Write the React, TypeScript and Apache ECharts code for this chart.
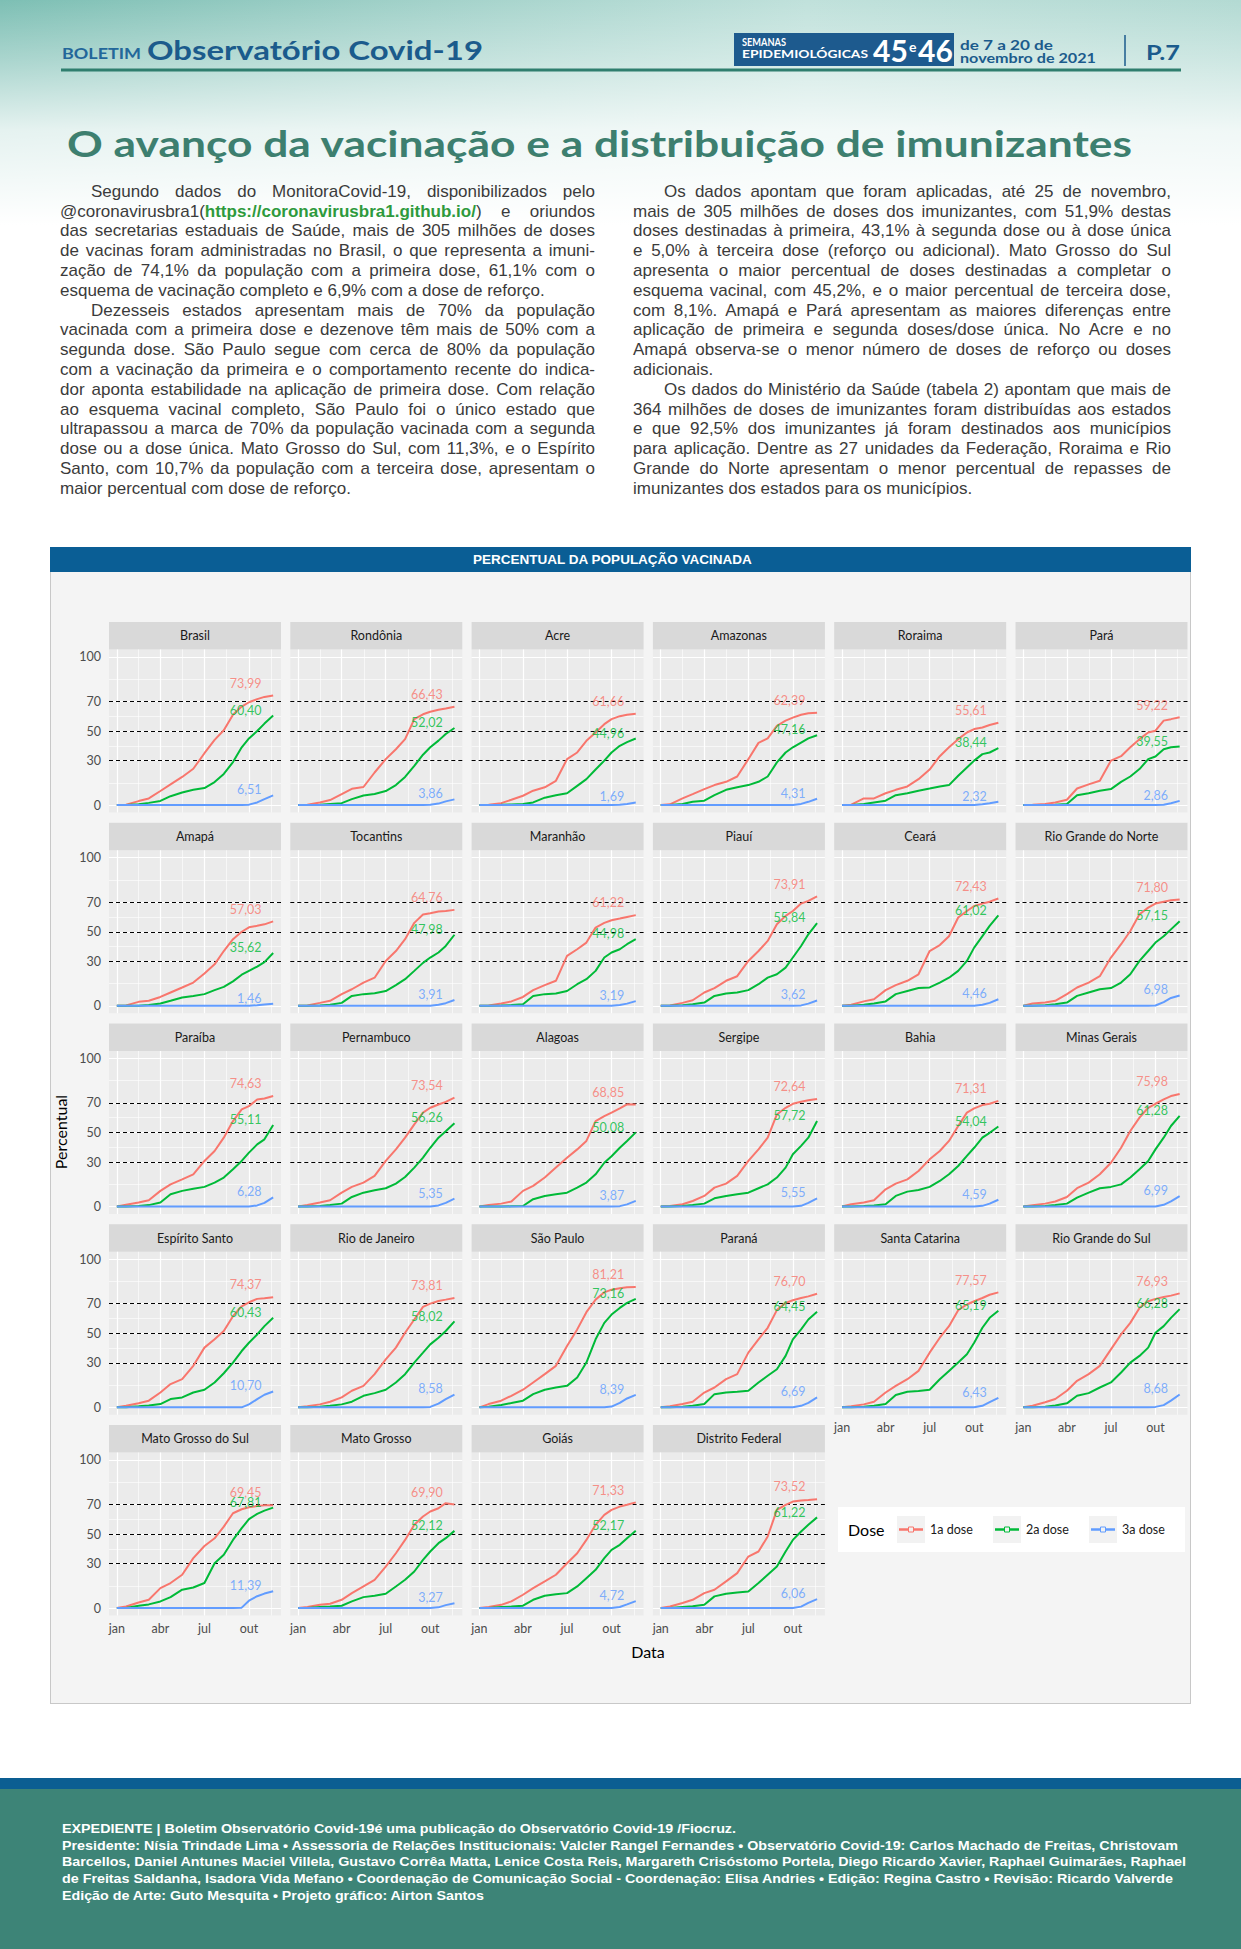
import React, { useEffect, useRef } from 'react';
import * as echarts from 'echarts';

// ---------- data ----------
const DAYS = [0, 19, 45, 66, 90, 111, 135, 158, 181, 202, 221, 240, 258, 273, 290, 305, 323]; // days since 1 Jan 2021
const MONTH_BREAKS = [0, 90, 181, 273];
const MONTH_MINOR = [45, 136, 227, 319];
const MONTH_LABELS = ['jan', 'abr', 'jul', 'out'];
const Y_TICKS = [0, 30, 50, 70, 100];
const Y_MINOR = [15, 40, 60, 85];
const REF_LINES = [30, 50, 70];
const DOSES = ['1a dose', '2a dose', '3a dose'];
const COLORS = ['#F8766D', '#00BA38', '#619CFF'];

const BRASIL = [
  [0, 0.3, 2.7, 4.5, 9.5, 14, 19, 24.5, 35, 44, 50.5, 61, 66.5, 69.4, 71.5, 73, 73.99],
  [0, 0, 0.5, 1.5, 2.8, 6, 8.5, 10.3, 11.5, 15.5, 21, 29, 39, 45, 50, 55, 60.4],
  [0, 0, 0, 0, 0, 0, 0, 0, 0, 0, 0, 0, 0, 0.3, 1.8, 4, 6.51],
];
const RONDONIA = [
  [0, 0.3, 1.8, 3.4, 7.4, 11, 12.2, 22, 31, 37.7, 44.5, 58, 61.3, 63, 64.3, 65.2, 66.43],
  [0, 0, 0.3, 0.8, 1.3, 4, 6.5, 7.5, 9.5, 13.5, 19, 26.5, 34, 39, 43.5, 48, 52.02],
  [0, 0, 0, 0, 0, 0, 0, 0, 0, 0, 0, 0, 0, 0.2, 1, 2.5, 3.86],
];
const ACRE = [
  [0, 0.2, 1.3, 3.6, 6.3, 9.7, 12, 16.4, 31, 35.5, 43.4, 49, 54.6, 58, 60, 61, 61.66],
  [0, 0, 0.2, 0.4, 0.7, 1.8, 5, 6.7, 8, 13, 17.5, 24, 30, 35.5, 40, 42.5, 44.96],
  [0, 0, 0, 0, 0, 0, 0, 0, 0, 0, 0, 0, 0, 0, 0.2, 0.8, 1.69],
];
const AMAZONAS = [
  [0, 0.5, 4.5, 7.4, 10.8, 13.5, 15.7, 19.3, 31, 42, 45, 53.5, 57, 59, 61, 62, 62.39],
  [0, 0, 0.7, 2.2, 3, 6.7, 10.3, 12, 13.5, 15.7, 19.3, 28.8, 35.5, 39, 42.2, 45, 47.16],
  [0, 0, 0, 0, 0, 0, 0, 0, 0, 0, 0, 0, 0, 0, 0.8, 2.2, 4.31],
];
const RORAIMA = [
  [0, 0.3, 4.5, 4.5, 8, 10.3, 12.6, 17.5, 24, 33, 39, 44.5, 49, 51.3, 52.4, 54, 55.61],
  [0, 0, 0.7, 1.8, 3, 6.7, 8, 9.7, 11.2, 12.6, 13.5, 19.8, 25.4, 30, 34.4, 35.5, 38.44],
  [0, 0, 0, 0, 0, 0, 0, 0, 0, 0, 0, 0, 0, 0, 0.5, 1.2, 2.32],
];
const PARA = [
  [0, 0.2, 0.7, 1.8, 3.6, 11.2, 14, 16.4, 30, 33, 39, 44.5, 49, 50.2, 57, 58, 59.22],
  [0, 0, 0, 0.2, 0.7, 6.7, 8, 9.7, 10.8, 15.7, 19.3, 24.3, 31, 32.8, 37.7, 39, 39.55],
  [0, 0, 0, 0, 0, 0, 0, 0, 0, 0, 0, 0, 0, 0, 0.3, 1.2, 2.86],
];
const AMAPA = [
  [0, 0.3, 2.7, 3.4, 6, 9, 12.4, 15.7, 21.8, 28, 37, 45, 50, 53, 54, 55, 57.03],
  [0, 0, 0, 0.5, 1.6, 3.4, 5.6, 6.7, 7.9, 10.6, 12.8, 16.5, 21, 23.6, 26.5, 29.5, 35.62],
  [0, 0, 0, 0, 0, 0, 0, 0, 0, 0, 0, 0, 0, 0, 0.4, 0.9, 1.46],
];
const TOCANTINS = [
  [0, 0.3, 2, 3.4, 7.9, 11.2, 15.7, 19, 30.3, 37, 45, 56, 61.6, 62.5, 63.6, 64, 64.76],
  [0, 0, 0.2, 0.7, 2, 6.7, 7.9, 8.5, 10, 14, 18, 23.6, 29, 32.6, 36, 40.4, 47.98],
  [0, 0, 0, 0, 0, 0, 0, 0, 0, 0, 0, 0, 0, 0, 0.8, 1.8, 3.91],
];
const MARANHAO = [
  [0, 0.2, 1.6, 3, 6, 10.6, 14, 16.9, 33.7, 38.2, 42.7, 52.8, 56, 57.8, 58.9, 60, 61.22],
  [0, 0, 0.2, 0.5, 1.1, 6.7, 7.9, 8.3, 10, 14.6, 18, 23.6, 32.6, 36, 38.2, 41.6, 44.98],
  [0, 0, 0, 0, 0, 0, 0, 0, 0, 0, 0, 0, 0, 0, 0.5, 1.5, 3.19],
];
const PIAUI = [
  [0, 0.3, 2, 3.8, 9, 12, 16.9, 20, 30.3, 37, 43.8, 55, 60.7, 64, 69, 70.8, 73.91],
  [0, 0, 0.4, 1, 2.2, 6.7, 8.3, 9, 10.6, 14.6, 19, 21.3, 25.8, 32.6, 40.4, 48.3, 55.84],
  [0, 0, 0, 0, 0, 0, 0, 0, 0, 0, 0, 0, 0, 0, 0.3, 1.5, 3.62],
];
const CEARA = [
  [0, 0.7, 3, 4.5, 10.6, 14, 16.9, 21.3, 37, 41, 47, 59.6, 64, 67.4, 69, 70.3, 72.43],
  [0, 0, 0.7, 1.6, 3, 7.9, 10, 12, 12.4, 15.7, 19, 23.6, 30.3, 39.3, 47, 54, 61.02],
  [0, 0, 0, 0, 0, 0, 0, 0, 0, 0, 0, 0, 0, 0, 0.8, 2, 4.46],
];
const RIO_GRANDE_NORTE = [
  [0, 1.6, 2.2, 3.4, 7.9, 12.4, 15.7, 20, 32.6, 41.6, 50.5, 61.8, 66.3, 69, 70.3, 71.2, 71.8],
  [0, 0, 0.4, 1, 2.2, 6.7, 9, 11.2, 12, 15.7, 21.3, 30.3, 37, 42.7, 47, 51.6, 57.15],
  [0, 0, 0, 0, 0, 0, 0, 0, 0, 0, 0, 0, 0, 0.2, 2.5, 5.3, 6.98],
];
const PARAIBA = [
  [0, 1.3, 2.7, 4.3, 10.6, 15, 18.4, 21.8, 30.8, 37.5, 46.5, 57.7, 65.6, 67.8, 72.3, 73, 74.63],
  [0, 0, 0.4, 1, 2.7, 8.3, 10.6, 12, 13.3, 16.2, 19.6, 25.2, 30.8, 36.4, 42, 45.4, 55.11],
  [0, 0, 0, 0, 0, 0, 0, 0, 0, 0, 0, 0, 0, 0, 0.8, 2.5, 6.28],
];
const PERNAMBUCO = [
  [0, 1.1, 2.7, 4.3, 9.4, 13.3, 16.2, 20.7, 30.8, 38.6, 46.5, 55.5, 63.4, 66.7, 68.9, 70.7, 73.54],
  [0, 0, 0.4, 1, 2, 6.5, 9.4, 11, 12.4, 15.5, 20, 26.3, 33, 39.7, 46.5, 50.9, 56.26],
  [0, 0, 0, 0, 0, 0, 0, 0, 0, 0, 0, 0, 0, 0, 0.8, 2.5, 5.35],
];
const ALAGOAS = [
  [0, 1.1, 2, 3.4, 10.6, 14, 19.6, 26.3, 33, 38.6, 44.3, 57.7, 61, 63.4, 66.3, 69, 68.85],
  [0, 0, 0, 0.2, 0.4, 5, 7.2, 8.3, 9.4, 12.8, 16.2, 21.8, 29.6, 34, 39.7, 44.3, 50.08],
  [0, 0, 0, 0, 0, 0, 0, 0, 0, 0, 0, 0, 0, 0, 0.3, 1.5, 3.87],
];
const SERGIPE = [
  [0, 0.4, 1.6, 3.8, 7.2, 12.8, 15.5, 20.7, 30.8, 38.6, 46.5, 62.2, 66.7, 69.4, 70.8, 71.7, 72.64],
  [0, 0, 0.4, 1, 2, 5.6, 7.2, 8.3, 9.4, 12.4, 15, 19.6, 26.3, 35.3, 41, 46.5, 57.72],
  [0, 0, 0, 0, 0, 0, 0, 0, 0, 0, 0, 0, 0, 0, 0.5, 2.5, 5.55],
];
const BAHIA = [
  [0, 1.6, 2.7, 4.3, 11.7, 15.5, 18.4, 24, 31.9, 37.5, 44.3, 54.4, 63.4, 66.3, 68.5, 69.4, 71.31],
  [0, 0, 0.4, 0.8, 1.6, 7.2, 10.1, 11.2, 13.3, 17.3, 21.8, 27.4, 34.2, 39.7, 46.5, 49.8, 54.04],
  [0, 0, 0, 0, 0, 0, 0, 0, 0, 0, 0, 0, 0, 0, 0.5, 2, 4.59],
];
const MINAS_GERAIS = [
  [0, 0.9, 2, 3.4, 6.5, 12.4, 16.2, 21.8, 29.6, 39.7, 51, 60, 66.7, 69.4, 72.3, 74.6, 75.98],
  [0, 0, 0.4, 1, 2, 6, 9.4, 12.4, 13.3, 15, 19.6, 25.2, 30.8, 38.6, 46.5, 54.4, 61.28],
  [0, 0, 0, 0, 0, 0, 0, 0, 0, 0, 0, 0, 0, 0, 1.2, 3.5, 6.99],
];
const ESPIRITO_SANTO = [
  [0, 1.1, 2.7, 4.5, 10, 15.7, 19, 28, 40.3, 45.9, 51.5, 61.5, 68.2, 70.9, 73.2, 73.6, 74.37],
  [0, 0, 0.7, 1.3, 2.2, 5.6, 6.7, 10, 11.9, 16.8, 23, 30.2, 38, 43.6, 49.2, 54.8, 60.43],
  [0, 0, 0, 0, 0, 0, 0, 0, 0, 0, 0, 0, 0, 2, 5.5, 8.5, 10.7],
];
const RIO_DE_JANEIRO = [
  [0, 0.7, 2, 3.8, 6.7, 11.2, 14.5, 22.4, 32.4, 40.3, 50.3, 59.3, 67.8, 70, 71.8, 72.7, 73.81],
  [0, 0, 0.4, 1, 2, 3.8, 7.8, 9.6, 11.9, 16.8, 22.4, 30.2, 36.9, 42.5, 47, 51.5, 58.02],
  [0, 0, 0, 0, 0, 0, 0, 0, 0, 0, 0, 0, 0, 0.3, 2.5, 5.5, 8.58],
];
const SAO_PAULO = [
  [0, 2.2, 4.5, 7.8, 11.9, 16.8, 22.4, 28, 41.4, 52.6, 64.2, 72.7, 77.6, 79.4, 80.3, 81, 81.21],
  [0, 0.4, 1.6, 2.9, 4.5, 8.9, 11.9, 13.4, 14.5, 20.1, 30.2, 45.9, 57, 62.6, 67.1, 70.5, 73.16],
  [0, 0, 0, 0, 0, 0, 0, 0, 0, 0, 0, 0, 0, 0.5, 3, 6, 8.39],
];
const PARANA = [
  [0, 0.7, 2.2, 3.8, 10, 13.4, 19, 22.4, 36.9, 45.9, 53.7, 65.6, 70.5, 72.3, 73.8, 74.9, 76.7],
  [0, 0, 0.4, 1, 2.2, 8.9, 10, 10.5, 11.2, 16.8, 21.3, 25.7, 34.7, 45.9, 52.6, 59.3, 64.45],
  [0, 0, 0, 0, 0, 0, 0, 0, 0, 0, 0, 0, 0, 0, 1, 3, 6.69],
];
const SANTA_CATARINA = [
  [0, 0.7, 2, 3.8, 10, 14.5, 19, 24.6, 36.9, 47, 54.8, 65.6, 69.4, 71.6, 73.8, 76, 77.57],
  [0, 0, 0.4, 1, 2.2, 8.3, 10.5, 11, 11.9, 19, 24.6, 30.2, 35.8, 43.6, 53.7, 60.4, 65.19],
  [0, 0, 0, 0, 0, 0, 0, 0, 0, 0, 0, 0, 0, 0, 1, 3.5, 6.43],
];
const RIO_GRANDE_SUL = [
  [0, 1.1, 3.4, 5.6, 11.2, 17.9, 22.4, 28, 39.1, 49.2, 57, 67.1, 71.6, 73.2, 74.5, 75.4, 76.93],
  [0, 0, 0.4, 1.2, 2.7, 7.8, 9.6, 13.4, 16.8, 23.5, 30.2, 34.7, 40.3, 50.3, 54.8, 60.4, 66.28],
  [0, 0, 0, 0, 0, 0, 0, 0, 0, 0, 0, 0, 0, 0.3, 1.5, 4.5, 8.68],
];
const MATO_GROSSO_SUL = [
  [0, 1.1, 3.8, 5.6, 13.5, 16.9, 22.5, 33.7, 41.9, 47.1, 55, 64, 66.7, 68, 68.9, 69.4, 69.45],
  [0, 0, 1.6, 2.5, 4.5, 7.4, 12.4, 13.9, 16.9, 30.3, 36, 46, 53.9, 60, 63.6, 65.8, 67.81],
  [0, 0, 0, 0, 0, 0, 0, 0, 0, 0, 0, 0, 0.3, 5, 8, 9.8, 11.39],
];
const MATO_GROSSO = [
  [0, 0.7, 2.2, 2.9, 5.6, 10.1, 14.6, 19.1, 28, 37, 46, 56.2, 61.8, 65.2, 67.4, 70.8, 69.9],
  [0, 0, 0.7, 1, 1.6, 4.5, 7.4, 8.3, 9.7, 14.6, 19.1, 24.7, 32.6, 38.2, 43.8, 47.2, 52.12],
  [0, 0, 0, 0, 0, 0, 0, 0, 0, 0, 0, 0, 0, 0, 0.5, 2, 3.27],
];
const GOIAS = [
  [0, 0.7, 2.2, 4.5, 9, 13.5, 18, 22.5, 30.3, 37, 46, 56.2, 62.9, 66.3, 68.5, 69.7, 71.33],
  [0, 0, 0.7, 1, 1.6, 5.6, 8.3, 9.4, 10.1, 14.6, 20.2, 25.8, 33.7, 39.3, 42.7, 47.2, 52.17],
  [0, 0, 0, 0, 0, 0, 0, 0, 0, 0, 0, 0, 0, 0, 0.7, 2.5, 4.72],
];
const DISTRITO_FEDERAL = [
  [0, 1.1, 3.4, 5.6, 10.1, 12.4, 18, 23.6, 34.8, 38.2, 48.3, 66.3, 69.7, 71.9, 72.6, 73, 73.52],
  [0, 0, 0.7, 1.2, 2.2, 7.9, 9.7, 10.6, 11.2, 16.9, 22.5, 28, 38.2, 46, 51.7, 56.2, 61.22],
  [0, 0, 0, 0, 0, 0, 0, 0, 0, 0, 0, 0, 0, 0, 1, 3.5, 6.06],
];

const FACET_NAMES = [
  'Brasil', 'Rondônia', 'Acre', 'Amazonas', 'Roraima', 'Pará',
  'Amapá', 'Tocantins', 'Maranhão', 'Piauí', 'Ceará', 'Rio Grande do Norte',
  'Paraíba', 'Pernambuco', 'Alagoas', 'Sergipe', 'Bahia', 'Minas Gerais',
  'Espírito Santo', 'Rio de Janeiro', 'São Paulo', 'Paraná', 'Santa Catarina', 'Rio Grande do Sul',
  'Mato Grosso do Sul', 'Mato Grosso', 'Goiás', 'Distrito Federal',
];
const FACET_DATA = [
  BRASIL, RONDONIA, ACRE, AMAZONAS, RORAIMA, PARA,
  AMAPA, TOCANTINS, MARANHAO, PIAUI, CEARA, RIO_GRANDE_NORTE,
  PARAIBA, PERNAMBUCO, ALAGOAS, SERGIPE, BAHIA, MINAS_GERAIS,
  ESPIRITO_SANTO, RIO_DE_JANEIRO, SAO_PAULO, PARANA, SANTA_CATARINA, RIO_GRANDE_SUL,
  MATO_GROSSO_SUL, MATO_GROSSO, GOIAS, DISTRITO_FEDERAL,
];

// label placement (ggplot-like text annotation)
const LABEL_DAY = 299;
const LABEL_OFFSET = [8.3, 3.6, 3.8];

// ---------- layout ----------
const CH_LEFT = 51, CH_TOP = 572, CH_W = 1139, CH_H = 1131;
const COL0 = 58, COL_STEP = 181.3, PANEL_W = 172;
const ROW0 = 50, ROW_STEP = 200.75, STRIP_H = 27.5, PANEL_H = 163;
const X_MIN = -16.2, X_MAX = 339.2, Y_MIN = -5, Y_MAX = 105;
const CHART_FONT = 'Lato, "Noto Sans", sans-serif';

const fmt = (v: number) => v.toFixed(2).replace('.', ',');

function buildOption() {
  const grid: any[] = [], xAxis: any[] = [], yAxis: any[] = [], series: any[] = [], graphic: any[] = [];
  const n = FACET_NAMES.length;
  FACET_NAMES.forEach((name, i) => {
    const r = Math.floor(i / 6), c = i % 6;
    const left = COL0 + c * COL_STEP;
    const stripTop = ROW0 + r * ROW_STEP;
    const top = stripTop + STRIP_H;
    const showX = i + 6 >= n;
    const showY = c === 0;
    grid.push({ left, top, width: PANEL_W, height: PANEL_H, show: true, backgroundColor: '#EBEBEB', borderWidth: 0 });
    xAxis.push({
      gridIndex: i, type: 'value', min: X_MIN, max: X_MAX,
      axisLine: { show: false }, splitLine: { show: false },
      axisTick: { show: showX, customValues: MONTH_BREAKS, length: 4, lineStyle: { color: '#333', width: 1 } },
      axisLabel: {
        show: showX, customValues: MONTH_BREAKS, margin: 6, color: '#4D4D4D', fontSize: 12.5, fontFamily: CHART_FONT,
        formatter: (v: number) => { const k = MONTH_BREAKS.indexOf(Math.round(v)); return k >= 0 ? MONTH_LABELS[k] : ''; },
      },
    });
    yAxis.push({
      gridIndex: i, type: 'value', min: Y_MIN, max: Y_MAX,
      axisLine: { show: false }, splitLine: { show: false },
      axisTick: { show: showY, customValues: Y_TICKS, length: 4, lineStyle: { color: '#333', width: 1 } },
      axisLabel: { show: showY, customValues: Y_TICKS, margin: 8, color: '#4D4D4D', fontSize: 12.5, fontFamily: CHART_FONT },
    });
    const mk = (v: number, axis: 'xAxis' | 'yAxis', color: string, width: number, type: any) => ({ [axis]: v, lineStyle: { color, width, type } });
    series.push({
      type: 'line', xAxisIndex: i, yAxisIndex: i, data: [], silent: true, z: 1,
      markLine: {
        silent: true, symbol: ['none', 'none'], label: { show: false }, z: 1, animation: false,
        emphasis: { disabled: true },
        data: [
          ...MONTH_MINOR.map((v) => mk(v, 'xAxis', '#FFFFFF', 0.6, 'solid')),
          ...Y_MINOR.map((v) => mk(v, 'yAxis', '#FFFFFF', 0.6, 'solid')),
          ...MONTH_BREAKS.map((v) => mk(v, 'xAxis', '#FFFFFF', 1.2, 'solid')),
          ...Y_TICKS.map((v) => mk(v, 'yAxis', '#FFFFFF', 1.2, 'solid')),
          ...REF_LINES.map((v) => mk(v, 'yAxis', '#000000', 1.1, [4, 3])),
        ],
      },
    });
    const vals = FACET_DATA[i];
    vals.forEach((arr, k) => {
      series.push({
        type: 'line', name: DOSES[k], xAxisIndex: i, yAxisIndex: i, z: 10,
        showSymbol: false, symbol: 'none', silent: true,
        lineStyle: { color: COLORS[k], width: 2 }, itemStyle: { color: COLORS[k] },
        data: DAYS.map((d, j) => [d, arr[j]]),
      });
    });
    series.push({
      type: 'scatter', xAxisIndex: i, yAxisIndex: i, z: 12, silent: true,
      symbolSize: 0, itemStyle: { color: 'transparent' },
      label: {
        show: true, position: 'inside', align: 'right', verticalAlign: 'middle',
        formatter: '{b}', fontSize: 12.5, fontFamily: CHART_FONT,
      },
      data: vals.map((arr, k) => {
        const last = arr[arr.length - 1];
        return { name: fmt(last), value: [LABEL_DAY, last + LABEL_OFFSET[k]], label: { color: COLORS[k] } };
      }),
    });
    graphic.push({ type: 'rect', silent: true, shape: { x: left, y: stripTop, width: PANEL_W, height: STRIP_H }, style: { fill: '#D9D9D9' } });
    graphic.push({
      type: 'text', silent: true, x: left + PANEL_W / 2, y: stripTop + STRIP_H / 2,
      style: { text: name, fill: '#1A1A1A', fontSize: 12.5, fontFamily: CHART_FONT, align: 'center', verticalAlign: 'middle', textAlign: 'center', textVerticalAlign: 'middle' },
    });
  });

  // axis titles
  graphic.push({
    type: 'text', silent: true, x: 9, y: 560, rotation: Math.PI / 2,
    style: { text: 'Percentual', fill: '#000', fontSize: 16, fontFamily: CHART_FONT, align: 'center', verticalAlign: 'middle', textAlign: 'center', textVerticalAlign: 'middle' },
  });
  graphic.push({
    type: 'text', silent: true, x: 597, y: 1079,
    style: { text: 'Data', fill: '#000', fontSize: 16, fontFamily: CHART_FONT, align: 'center', verticalAlign: 'middle', textAlign: 'center', textVerticalAlign: 'middle' },
  });

  // legend
  const LX = 787, LY = 935;
  graphic.push({ type: 'rect', silent: true, shape: { x: LX, y: LY, width: 347, height: 45 }, style: { fill: '#FFFFFF' } });
  graphic.push({
    type: 'text', silent: true, x: LX + 10, y: LY + 22.5,
    style: { text: 'Dose', fill: '#000', fontSize: 16, fontFamily: CHART_FONT, verticalAlign: 'middle', textVerticalAlign: 'middle' },
  });
  const keyX = [846, 942, 1038];
  DOSES.forEach((d, k) => {
    const kx = keyX[k];
    graphic.push({ type: 'rect', silent: true, shape: { x: kx, y: LY + 9, width: 28, height: 27 }, style: { fill: '#F2F2F2' } });
    graphic.push({ type: 'line', silent: true, shape: { x1: kx + 2, y1: LY + 22.5, x2: kx + 26, y2: LY + 22.5 }, style: { stroke: COLORS[k], lineWidth: 2.5 } });
    graphic.push({ type: 'rect', silent: true, shape: { x: kx + 11.5, y: LY + 20, width: 5, height: 5 }, style: { fill: '#F2F2F2', stroke: COLORS[k], lineWidth: 1 } });
    graphic.push({
      type: 'text', silent: true, x: kx + 33, y: LY + 22.5,
      style: { text: d, fill: '#1A1A1A', fontSize: 12.5, fontFamily: CHART_FONT, verticalAlign: 'middle', textVerticalAlign: 'middle' },
    });
  });

  return { animation: false, backgroundColor: 'transparent', grid, xAxis, yAxis, series, graphic };
}

function FacetChart() {
  const ref = useRef<HTMLDivElement>(null);
  useEffect(() => {
    const chart = echarts.init(ref.current as HTMLDivElement, null, { renderer: 'svg' });
    chart.setOption(buildOption() as any);
    return () => chart.dispose();
  }, []);
  return <div ref={ref} style={{ position: 'absolute', left: CH_LEFT, top: CH_TOP, width: CH_W, height: CH_H }} />;
}

// ---------- page text ----------
const COL1_LINES: [string, number][] = [
  ['Segundo dados do MonitoraCovid-19, disponibilizados pelo', 1],
  ['@URL e oriundos', 0],
  ['das secretarias estaduais de Saúde, mais de 305 milhões de doses', 0],
  ['de vacinas foram administradas no Brasil, o que representa a imuni-', 0],
  ['zação de 74,1% da população com a primeira dose, 61,1% com o', 0],
  ['esquema de vacinação completo e 6,9% com a dose de reforço.', 2],
  ['Dezesseis estados apresentam mais de 70% da população', 1],
  ['vacinada com a primeira dose e dezenove têm mais de 50% com a', 0],
  ['segunda dose. São Paulo segue com cerca de 80% da população', 0],
  ['com a vacinação da primeira e o comportamento recente do indica-', 0],
  ['dor aponta estabilidade na aplicação de primeira dose. Com relação', 0],
  ['ao esquema vacinal completo, São Paulo foi o único estado que', 0],
  ['ultrapassou a marca de 70% da população vacinada com a segunda', 0],
  ['dose ou a dose única. Mato Grosso do Sul, com 11,3%, e o Espírito', 0],
  ['Santo, com 10,7% da população com a terceira dose, apresentam o', 0],
  ['maior percentual com dose de reforço.', 2],
];
const COL2_LINES: [string, number][] = [
  ['Os dados apontam que foram aplicadas, até 25 de novembro,', 1],
  ['mais de 305 milhões de doses dos imunizantes, com 51,9% destas', 0],
  ['doses destinadas à primeira, 43,1% à segunda dose ou à dose única', 0],
  ['e 5,0% à terceira dose (reforço ou adicional). Mato Grosso do Sul', 0],
  ['apresenta o maior percentual de doses destinadas a completar o', 0],
  ['esquema vacinal, com 45,2%, e o maior percentual de terceira dose,', 0],
  ['com 8,1%. Amapá e Pará apresentam as maiores diferenças entre', 0],
  ['aplicação de primeira e segunda doses/dose única. No Acre e no', 0],
  ['Amapá observa-se o menor número de doses de reforço ou doses', 0],
  ['adicionais.', 2],
  ['Os dados do Ministério da Saúde (tabela 2) apontam que mais de', 1],
  ['364 milhões de doses de imunizantes foram distribuídas aos estados', 0],
  ['e que 92,5% dos imunizantes já foram destinados aos municípios', 0],
  ['para aplicação. Dentre as 27 unidades da Federação, Roraima e Rio', 0],
  ['Grande do Norte apresentam o menor percentual de repasses de', 0],
  ['imunizantes dos estados para os municípios.', 2],
];
const FOOTER_LINES = [
  'EXPEDIENTE | Boletim Observatório Covid-19é uma publicação do Observatório Covid-19 /Fiocruz.',
  'Presidente: Nísia Trindade Lima • Assessoria de Relações Institucionais: Valcler Rangel Fernandes • Observatório Covid-19: Carlos Machado de Freitas, Christovam',
  'Barcellos, Daniel Antunes Maciel Villela, Gustavo Corrêa Matta, Lenice Costa Reis, Margareth Crisóstomo Portela, Diego Ricardo Xavier, Raphael Guimarães, Raphael',
  'de Freitas Saldanha, Isadora Vida Mefano • Coordenação de Comunicação Social - Coordenação: Elisa Andries • Edição: Regina Castro • Revisão: Ricardo Valverde',
  'Edição de Arte: Guto Mesquita • Projeto gráfico: Airton Santos',
];
const FOOTER_W = [674, 1116, 1124, 1111, 422];

const BODY_FONT = '"Liberation Sans", Arial, sans-serif';
const HEAD_FONT = 'Lato, "Noto Sans", sans-serif';

function TextColumn({ lines, left, width }: { lines: [string, number][]; left: number; width: number }) {
  return (
    <div style={{ position: 'absolute', left, top: 181.8, width, fontFamily: BODY_FONT, fontSize: 17, color: '#3B3B3B' }}>
      {lines.map(([t, kind], i) => (
        <div key={i} style={{ height: 19.8, lineHeight: '19.8px', textAlign: 'justify', textAlignLast: kind === 2 ? 'left' : 'justify', paddingLeft: kind === 1 ? 31 : 0, whiteSpace: 'nowrap' } as any}>
          {t.includes('@URL') ? (
            <>
              @coronavirusbra1(<span style={{ color: '#2E9A3C', fontWeight: 700 }}>https://coronavirusbra1.github.io/</span>) e oriundos
            </>
          ) : t}
        </div>
      ))}
    </div>
  );
}

export default function App() {
  useEffect(() => {
    document.body.style.margin = '0';
    document.body.style.overflow = 'hidden';
  }, []);
  return (
    <div style={{ position: 'absolute', left: 0, top: 0, width: 1241, height: 1949, overflow: 'hidden', background: '#FFFFFF' }}>
      <div style={{
        position: 'absolute', left: 0, top: 0, width: 1241, height: 230,
        background: 'linear-gradient(180deg, rgba(255,255,255,0) 0px, rgba(255,255,255,0.35) 60px, rgba(255,255,255,0.8) 130px, #FFFFFF 225px), linear-gradient(90deg, #7DBFB4 0%, #A3D2CA 35%, #C0E1DB 65%, #B3DAD3 100%)',
      }} />
      <svg width={1241} height={1949} style={{ position: 'absolute', left: 0, top: 0 }}>
        <text x={62} y={59} fontSize={15} fontWeight={700} fill="#23679A" fontFamily={HEAD_FONT} textLength={79} lengthAdjust="spacingAndGlyphs">BOLETIM</text>
        <text x={147} y={60} fontSize={27} fontWeight={700} fill="#1B5B8C" fontFamily={HEAD_FONT} textLength={336} lengthAdjust="spacingAndGlyphs">Observatório Covid-19</text>
        <rect x={734} y={33} width={220} height={33} fill="#1D5A8E" />
        <text x={742} y={46} fontSize={10.5} fontWeight={700} fill="#FFFFFF" fontFamily={HEAD_FONT} textLength={44} lengthAdjust="spacingAndGlyphs">SEMANAS</text>
        <text x={742} y={58} fontSize={10.5} fontWeight={700} fill="#FFFFFF" fontFamily={HEAD_FONT} textLength={126} lengthAdjust="spacingAndGlyphs">EPIDEMIOLÓGICAS</text>
        <text x={873} y={62} fontSize={30} fontWeight={700} fill="#FFFFFF" fontFamily={HEAD_FONT}>45</text>
        <text x={909} y={52} fontSize={14} fontWeight={700} fill="#FFFFFF" fontFamily={HEAD_FONT}>e</text>
        <text x={918} y={62} fontSize={30} fontWeight={700} fill="#FFFFFF" fontFamily={HEAD_FONT}>46</text>
        <text x={960} y={50} fontSize={13.5} fontWeight={700} fill="#1B5B8C" fontFamily={HEAD_FONT} textLength={93} lengthAdjust="spacingAndGlyphs">de 7 a 20 de</text>
        <text x={960} y={63} fontSize={13.5} fontWeight={700} fill="#1B5B8C" fontFamily={HEAD_FONT} textLength={136} lengthAdjust="spacingAndGlyphs">novembro de 2021</text>
        <line x1={1125} y1={35} x2={1125} y2={66} stroke="#1B5B8C" strokeWidth={1.5} />
        <text x={1146} y={60} fontSize={20} fontWeight={700} fill="#1B5B8C" fontFamily={HEAD_FONT} textLength={34} lengthAdjust="spacingAndGlyphs">P.7</text>
        <rect x={61} y={68.5} width={1120} height={3} fill="#2F7E6E" />
        <text x={67} y={157} fontSize={37} fontWeight={700} fill="#3D7F6F" fontFamily={HEAD_FONT} textLength={1065} lengthAdjust="spacingAndGlyphs">O avanço da vacinação e a distribuição de imunizantes</text>
        <rect x={0} y={1778} width={1241} height={11} fill="#0C5E92" />
        <rect x={0} y={1789} width={1241} height={160} fill="#3D8477" />
        {FOOTER_LINES.map((t, i) => (
          <text key={i} x={62} y={1833 + i * 16.7} fontSize={12.5} fontWeight={700} fill="#FFFFFF" fontFamily={BODY_FONT} textLength={FOOTER_W[i]} lengthAdjust="spacingAndGlyphs">{t}</text>
        ))}
      </svg>
      <TextColumn lines={COL1_LINES} left={60} width={535} />
      <TextColumn lines={COL2_LINES} left={633} width={538} />
      <div style={{ position: 'absolute', left: 50, top: 547, width: 1139, height: 1155, border: '1px solid #C8C8C8', background: '#F4F4F4' }} />
      <div style={{
        position: 'absolute', left: 50, top: 547, width: 1141, height: 25, background: '#0A5E95', color: '#FFFFFF',
        fontFamily: BODY_FONT, fontWeight: 700, fontSize: 13.5, lineHeight: '25px', textAlign: 'center', paddingRight: 16, boxSizing: 'border-box',
      }}>PERCENTUAL DA POPULAÇÃO VACINADA</div>
      <FacetChart />
    </div>
  );
}
